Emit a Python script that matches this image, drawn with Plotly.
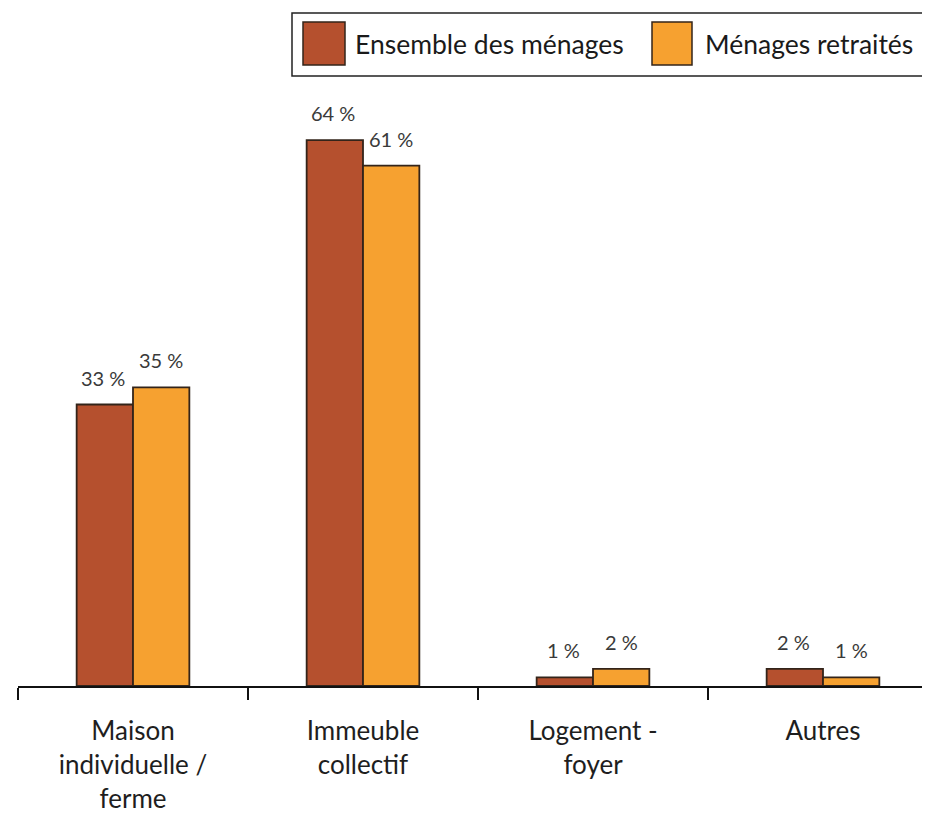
import plotly.graph_objects as go

categories = ["Maison<br>individuelle /<br>ferme", "Immeuble<br>collectif", "Logement -<br>foyer", "Autres"]
ensemble = [33, 64, 1, 2]
retraites = [35, 61, 2, 1]
series_names = ["Ensemble des ménages", "Ménages retraités"]

BROWN = "#B5502E"
ORANGE = "#F6A130"
EDGE = "#33241a"
FONT = "Lato, Roboto, sans-serif"

OFF = 8  # default page body margin
W, H = 930 - OFF, 818 - OFF
ML, MR, MT, MB = 10, 0, 0, 132
PW, PH = W - ML - MR, H - MT - MB

def px(x):
    return (x - OFF - ML) / PW

def py(y):
    return (H - MB - (y - OFF)) / PH

fig = go.Figure()
for i, (name, vals, col) in enumerate([(series_names[0], ensemble, BROWN), (series_names[1], retraites, ORANGE)]):
    fig.add_trace(go.Bar(
        x=categories, y=vals, name=name,
        marker=dict(color=col, line=dict(color=EDGE, width=1.8)),
        showlegend=False,
    ))
    for c, v in zip(categories, vals):
        fig.add_annotation(x=c, y=v, text=f"{v} %", showarrow=False,
                           xanchor="center", yanchor="bottom",
                           xshift=-30 if i == 0 else 28, yshift=13,
                           font=dict(family=FONT, size=20, color="#3a3a3a"))

fig.update_layout(
    width=W, height=H,
    margin=dict(l=ML, r=MR, t=MT, b=MB, autoexpand=False),
    paper_bgcolor="white", plot_bgcolor="white",
    barmode="group", bargap=0.51, bargroupgap=0,
    font=dict(family=FONT, color="#222222"),
    xaxis=dict(
        type="category", automargin=False,
        range=[-0.5, -0.5 + PW / 230.0],
        tickson="boundaries", ticks="outside", ticklen=12, tickwidth=1.5, tickcolor="#111",
        showline=True, linecolor="#111", linewidth=1.5,
        showgrid=False, zeroline=False,
        tickfont=dict(family=FONT, size=26, color="#1e1e1e"),
        ticklabelstandoff=21,
    ),
    yaxis=dict(range=[0, PH / 8.53], visible=False, showgrid=False, zeroline=False, automargin=False),
)

# legend box drawn as styling shapes
fig.add_shape(type="rect", xref="paper", yref="paper",
              x0=px(292), x1=px(925), y0=py(76), y1=py(13),
              line=dict(color="#222", width=1.5), fillcolor="white", layer="above")
fig.add_shape(type="rect", xref="paper", yref="paper",
              x0=px(303), x1=px(345), y0=py(65), y1=py(22),
              line=dict(color=EDGE, width=1.5), fillcolor=BROWN, layer="above")
fig.add_shape(type="rect", xref="paper", yref="paper",
              x0=px(652), x1=px(692), y0=py(65), y1=py(22),
              line=dict(color=EDGE, width=1.5), fillcolor=ORANGE, layer="above")
fig.add_annotation(xref="paper", yref="paper", x=px(353), y=py(44), xanchor="left", yanchor="middle",
                   text=series_names[0], showarrow=False, font=dict(family=FONT, size=26.5, color="#1a1a1a"))
fig.add_annotation(xref="paper", yref="paper", x=px(703), y=py(44), xanchor="left", yanchor="middle",
                   text=series_names[1], showarrow=False, font=dict(family=FONT, size=26.5, color="#1a1a1a"))

fig.write_html("out.html")
